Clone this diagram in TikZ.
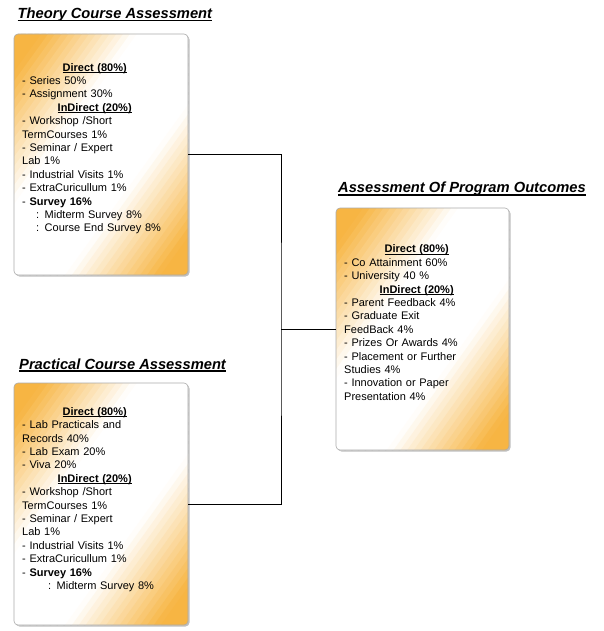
\documentclass[tikz,border=0pt]{standalone}
\usepackage{fontspec}
\setmainfont{Liberation Sans}
\usetikzlibrary{shadows}
\definecolor{orng}{HTML}{F7B543}
\definecolor{bordergrey}{HTML}{ABABAB}
\tikzset{
  assessbox/.style={fill=white, rounded corners=4pt,
    drop shadow={shadow xshift=1.5pt, shadow yshift=-1.5pt, opacity=0.25, fill=black},
    inner sep=0pt, outer sep=0pt, anchor=north west},
  boxborder/.style={draw=bordergrey, line width=0.6pt, rounded corners=4pt},
  boxtext/.style={anchor=north west, inner sep=0pt, text width=150pt, align=left,
    font=\fontsize{11}{13.4}\selectfont},
  titletext/.style={anchor=base west, inner sep=0pt, font=\fontsize{14.7}{17}\selectfont\bfseries\itshape},
  link/.style={draw=black, line width=1pt}
}
% diagonal orange-white-orange gradient inside a rounded box (x0,y0,w,h)
\newcommand{\gradstrips}[4]{%
  \begin{scope}
  \clip[rounded corners=4pt] (#1,#2) rectangle ++(#3,#4);
  \foreach \gi in {0,...,50} {
    \pgfmathsetmacro\gt{(\gi+0.5)/51}
    \pgfmathsetmacro\gp{100*min(1,max(0,(abs(\gt-0.5)*2-0.3)/0.54))}
    \pgfmathsetmacro\ga{2*\gi/51}
    \pgfmathsetmacro\gb{2*(\gi+1.7)/51}
    \fill[orng!\gp!white]
      ({#1+(\ga+0.1)*#3},{#2-0.1*#4}) --
      ({#1+(\gb+0.1)*#3},{#2-0.1*#4}) --
      ({#1+(\gb-1.1)*#3},{#2+1.1*#4}) --
      ({#1+(\ga-1.1)*#3},{#2+1.1*#4}) -- cycle;
  }
  \end{scope}}
\newcommand{\tul}[1]{\setbox0=\hbox{#1}\rlap{\rule[-2.6pt]{\wd0}{1.3pt}}\box0}
\newcommand{\hul}[1]{\setbox0=\hbox{#1}\rlap{\rule[-2pt]{\wd0}{0.9pt}}\box0}
\newcommand{\hdr}[1]{\makebox[145pt][c]{\hul{\textbf{#1}}}}
\begin{document}
\begin{tikzpicture}[x=1pt,y=-1pt]
\useasboundingbox (0,0) rectangle (603,631);

% boxes
\node[assessbox, minimum width=174pt, minimum height=241pt] (theory) at (14,34) {};
\node[assessbox, minimum width=174pt, minimum height=242pt] (practical) at (14,383) {};
\node[assessbox, minimum width=173pt, minimum height=242pt] (program) at (336,208) {};
\gradstrips{14}{34}{174}{241}
\gradstrips{14}{383}{174}{242}
\gradstrips{336}{208}{173}{242}
\draw[boxborder] (theory.north west) rectangle (theory.south east);
\draw[boxborder] (practical.north west) rectangle (practical.south east);
\draw[boxborder] (program.north west) rectangle (program.south east);

% titles
\node[titletext] (ttheory) at (17.5,18.5) {\tul{Theory Course Assessment}};
\node[titletext] (tpractical) at (19,369) {\tul{Practical Course Assessment}};
\node[titletext] (tprogram) at (338,193) {\tul{Assessment Of Program Outcomes}};

% texts
\node[boxtext] (xtheory) at (22,61) {\rule{0pt}{10pt}\hdr{Direct (80\%)}\\
- Series 50\%\\
- Assignment 30\%\\
\hdr{InDirect (20\%)}\\
- Workshop /Short\\
TermCourses 1\%\\
- Seminar / Expert\\
Lab 1\%\\
- Industrial Visits 1\%\\
- ExtraCuricullum 1\%\\
- \textbf{Survey 16\%}\\
\hspace*{14pt}: Midterm Survey 8\%\\
\hspace*{14pt}: Course End Survey 8\%};

\node[boxtext] (xpractical) at (22,405) {\rule{0pt}{10pt}\hdr{Direct (80\%)}\\
- Lab Practicals and\\
Records 40\%\\
- Lab Exam 20\%\\
- Viva 20\%\\
\hdr{InDirect (20\%)}\\
- Workshop /Short\\
TermCourses 1\%\\
- Seminar / Expert\\
Lab 1\%\\
- Industrial Visits 1\%\\
- ExtraCuricullum 1\%\\
- \textbf{Survey 16\%}\\
\hspace*{26pt}: Midterm Survey 8\%};

\node[boxtext] (xprogram) at (344,242.7) {\rule{0pt}{10pt}\hdr{Direct (80\%)}\\
- Co Attainment 60\%\\
- University 40 \%\\
\hdr{InDirect (20\%)}\\
- Parent Feedback 4\%\\
- Graduate Exit\\
FeedBack 4\%\\
- Prizes Or Awards 4\%\\
- Placement or Further\\
Studies 4\%\\
- Innovation or Paper\\
Presentation 4\%};

% connectors
\coordinate (junction) at (281,329);
\draw[link] (theory.east) -| (junction) |- (practical.east);
\draw[link] (junction) -- (program.west);
\end{tikzpicture}
\end{document}
